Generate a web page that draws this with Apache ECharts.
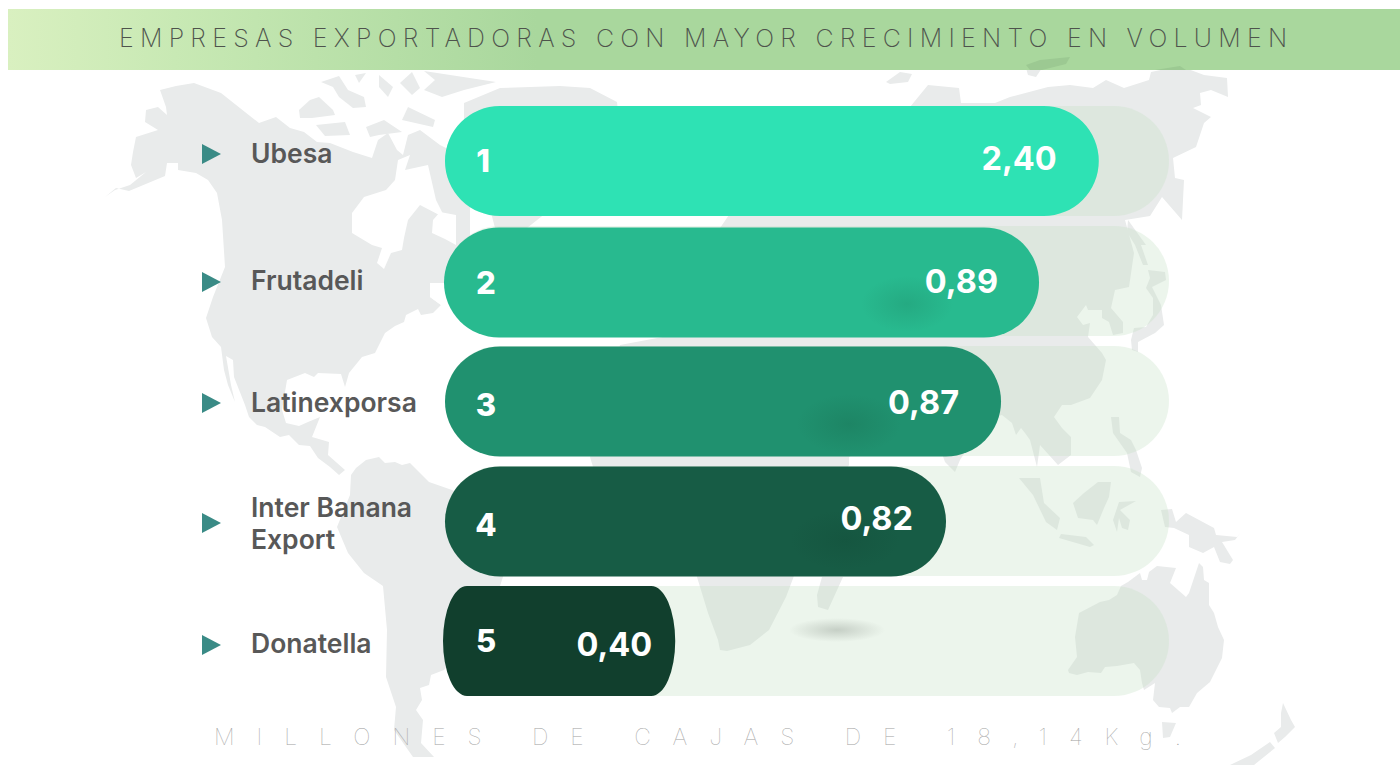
<!DOCTYPE html>
<html><head><meta charset="utf-8">
<script src="https://cdn.jsdelivr.net/npm/echarts@6/dist/echarts.min.js"></script>
<style>
html,body{margin:0;padding:0;background:#fff}
#c{width:1400px;height:765px}
text[style*="25px"]{letter-spacing:6.25px}
text[style*="23px"]{letter-spacing:21.95px}
</style></head><body><div id="c"></div>
<script>
const companies=['Ubesa','Frutadeli','Latinexporsa','Inter Banana\nExport','Donatella'];
const ranks=['1','2','3','4','5'];
const valueLabels=['2,40','0,89','0,87','0,82','0,40'];
// Drawn bar length (% of the pale track): the source bars are not proportional to the printed values.
const barLengths=[90.3,82.05,76.8,69.2,31.8];
const trackLengths=[100,100,100,100,100];
const barColors=['#2EE2B4','#28BA8F','#20916F','#175C45','#113F2D'];
const titleText='EMPRESAS EXPORTADORAS CON MAYOR CRECIMIENTO EN VOLUMEN';
const footerText='MILLONES DE CAJAS DE 18,14Kg.';
const cornerX=[55,55,55,55,24];
const nameShift=[-8,-1,1,2,2];
const rankShift=[-1,1,3,3,-1];
const valueShift=[-3,0,1,-3,3];
const valueInset=[42,41,42,33,23];
const rankX=[38,41,41,41,41];
const markerShift=[-7,1,2,2,4];
const barDrop=[0,1.5,0.5,0.5,0];
const barStartNudge=[0,-1,0,0,-2];

const LAND='#E9EBEB';
const land=[
[[105,197],[116,188],[129,191],[165,176],[167,163],[178,163],[178,170],[196,173],[208,180],[217,193],[222,220],[225,267],[213,297],[206,318],[212,337],[221,347],[224,370],[228,385],[235,402],[231,385],[226,356],[233,360],[234,377],[245,405],[249,417],[257,425],[265,427],[280,437],[289,435],[299,445],[310,446],[318,458],[330,467],[339,475],[345,470],[328,455],[329,442],[312,437],[320,417],[308,422],[299,426],[286,423],[282,410],[287,380],[305,373],[314,377],[318,373],[341,374],[345,387],[349,373],[362,357],[375,353],[385,333],[395,326],[404,322],[406,315],[418,309],[421,315],[433,313],[441,305],[430,297],[430,283],[470,283],[470,160],[440,145],[420,130],[408,135],[403,155],[397,150],[388,133],[378,140],[372,158],[353,152],[330,143],[317,142],[304,132],[290,128],[276,117],[259,123],[221,93],[194,83],[176,86],[160,90],[166,107],[167,115],[158,107],[146,110],[145,122],[158,130],[136,137],[133,152],[131,165],[136,178],[146,172],[130,185],[115,190]],
[[351,475],[356,468],[366,460],[379,457],[385,463],[395,462],[402,465],[410,463],[429,482],[452,490],[520,525],[500,586],[470,640],[444,670],[431,675],[429,685],[420,688],[422,700],[416,710],[423,720],[421,743],[434,757],[413,757],[394,730],[396,707],[386,677],[387,630],[383,586],[364,573],[348,553],[337,527],[350,495]],
[[464,103],[500,88],[560,86],[590,88],[617,102],[620,130],[575,190],[527,228],[495,228],[480,170],[464,130]],
[[590,457],[620,345],[700,330],[720,228],[760,170],[850,120],[886,110],[910,107],[928,85],[959,88],[961,103],[995,103],[1010,97],[1048,87],[1070,85],[1093,88],[1106,80],[1124,88],[1149,80],[1151,72],[1180,66],[1204,75],[1227,78],[1228,97],[1211,90],[1200,93],[1201,105],[1193,108],[1211,117],[1204,123],[1196,147],[1173,158],[1175,178],[1184,180],[1182,220],[1162,197],[1150,216],[1125,220],[1134,253],[1129,287],[1115,290],[1111,308],[1123,322],[1123,333],[1113,335],[1109,322],[1102,318],[1102,310],[1088,310],[1086,305],[1077,317],[1083,325],[1090,323],[1088,337],[1102,353],[1106,360],[1102,380],[1090,398],[1071,405],[1062,405],[1054,417],[1062,428],[1071,437],[1071,455],[1058,465],[1040,445],[1037,467],[1030,440],[1025,433],[1021,428],[1016,435],[1012,423],[1002,415],[985,420],[960,460],[955,472],[945,462],[930,420],[880,440],[849,457],[849,465],[825,510],[800,560],[786,597],[769,630],[750,645],[727,651],[720,650],[718,640],[708,613],[697,577],[685,530],[640,510],[600,490]],
[[822,577],[843,577],[828,610],[818,607],[817,595]],
[[886,82],[900,72],[912,74],[908,82],[890,84]],
[[1026,68],[1042,68],[1036,77],[1028,75]],
[[1128,220],[1146,245],[1141,245],[1148,265],[1143,265],[1135,245],[1127,232]],
[[1148,270],[1165,272],[1166,280],[1152,287],[1161,305],[1164,325],[1155,333],[1138,342],[1138,352],[1132,350],[1131,340],[1134,328],[1146,327],[1153,315],[1153,298],[1146,288],[1150,278]],
[[1111,417],[1119,417],[1120,433],[1131,440],[1136,450],[1142,468],[1140,477],[1131,472],[1127,453],[1113,433]],
[[1019,478],[1033,495],[1046,522],[1057,530],[1060,518],[1044,503],[1040,478]],
[[1059,538],[1061,534],[1086,537],[1094,545],[1090,547]],
[[1073,503],[1084,493],[1098,482],[1111,482],[1109,497],[1104,508],[1097,525],[1093,520],[1078,518]],
[[1119,502],[1136,501],[1120,510],[1130,520],[1128,530],[1122,528],[1119,518],[1117,532],[1113,520]],
[[1161,510],[1172,509],[1176,522],[1186,513],[1214,528],[1216,535],[1237,537],[1241,532],[1235,540],[1222,542],[1233,560],[1230,564],[1220,562],[1214,547],[1203,553],[1189,547],[1189,535],[1174,528],[1165,527]],
[[1068,670],[1077,657],[1075,637],[1079,613],[1100,602],[1109,600],[1117,595],[1121,586],[1128,582],[1140,573],[1142,580],[1147,580],[1149,572],[1157,566],[1176,568],[1170,583],[1186,597],[1189,593],[1199,563],[1203,567],[1204,580],[1209,583],[1209,605],[1214,613],[1218,627],[1224,640],[1222,658],[1210,682],[1197,693],[1189,707],[1180,707],[1172,713],[1170,708],[1159,707],[1153,700],[1155,683],[1144,690],[1142,683],[1140,670],[1134,663],[1117,666],[1105,667],[1101,673],[1088,672],[1077,675],[1069,673]],
[[1162,722],[1176,723],[1170,737],[1163,738]],
[[1283,703],[1291,720],[1295,727],[1285,737],[1278,743],[1274,733],[1281,727],[1281,713]],
[[1270,742],[1251,755],[1230,765],[1254,765],[1275,748]],
[[299,110],[310,100],[319,97],[333,110],[335,115],[312,118],[300,118]],
[[321,82],[339,76],[348,90],[364,97],[366,107],[353,108],[339,97],[333,87]],
[[355,75],[366,73],[359,83]],
[[379,75],[393,87],[388,97],[379,87]],
[[400,83],[412,72],[420,88],[412,95]],
[[424,71],[496,82],[464,90],[442,97],[424,90],[435,80]],
[[408,107],[435,120],[433,127],[402,120]],
[[366,127],[384,120],[402,132],[379,135],[370,137]],
[[316,125],[345,122],[350,135],[325,136]]
];
const water=[
[[352,233],[352,213],[364,197],[386,190],[395,180],[398,160],[410,155],[405,170],[428,165],[436,200],[445,218],[420,205],[408,220],[404,238],[402,250],[391,253],[384,269],[377,263],[382,248],[372,245]],
[[433,220],[432,233],[445,239],[456,245],[456,215],[440,212]],
[[430,283],[470,283],[470,300],[441,305],[430,297]]
];
const titleIslands=[[[1026,65],[1040,60],[1070,57],[1066,64],[1050,68],[1042,70],[1030,70]],[[1155,70],[1180,66],[1186,70]]];

const poly=(pts,fill,z)=>({type:'polygon',silent:true,z,shape:{points:pts},style:{fill}});
const spot=(cx,cy,rx,ry,col)=>({type:'ellipse',silent:true,z:40,shape:{cx,cy,rx,ry},style:{fill:{type:'radial',x:.5,y:.5,r:.5,colorStops:[{offset:0,color:col},{offset:1,color:col.replace(/[\d.]+\)$/,'0)')}]}}});

const graphics=[
  ...land.map(p=>poly(p,LAND,0)),
  ...water.map(p=>poly(p,'#FFFFFF',0)),
  {type:'rect',silent:true,z:1,shape:{x:8,y:9,width:1392,height:61},style:{fill:{type:'linear',x:0,y:0,x2:1,y2:0,colorStops:[{offset:0,color:'#D9F0C0'},{offset:.12,color:'#C8E9B4'},{offset:.38,color:'#A9D79D'},{offset:1,color:'#A9D79D'}]}}},
  ...titleIslands.map(p=>poly(p,'#9CC992',2)),
  spot(837,630,48,12,'rgba(140,150,140,0.4)'),
  spot(907,304,46,28,'rgba(30,140,105,0.35)'),
  spot(849,424,52,30,'rgba(25,115,85,0.4)'),
  spot(845,540,55,30,'rgba(18,75,55,0.35)')
];

function capsule(x,y,w,h,rx){
  const ry=h/2;
  return `M${x+rx} ${y}H${x+w-rx}A${rx} ${ry} 0 0 1 ${x+w-rx} ${y+h}H${x+rx}A${rx} ${ry} 0 0 1 ${x+rx} ${y}Z`;
}
const BAR_RATIO=110/120;

const option={
  animation:false,
  backgroundColor:'#fff',
  title:[
    {text:titleText,left:119,top:25,padding:0,textStyle:{fontFamily:'Inter',fontWeight:200,fontSize:25,color:'#4E534C'},z:30},
    {text:footerText,left:214,top:725,padding:0,textStyle:{fontFamily:'Inter',fontWeight:100,fontSize:23,color:'#A4A4A4'},z:30}
  ],
  graphic:{elements:graphics},
  grid:{left:445,top:101,width:724,height:600,containLabel:false},
  xAxis:{type:'value',min:0,max:100,show:false},
  yAxis:{type:'category',inverse:true,data:companies,axisLine:{show:false},axisTick:{show:false},splitLine:{show:false},axisLabel:{show:false}},
  series:[
    {type:'bar',name:'track',data:trackLengths,barWidth:110,z:1,silent:true,
     itemStyle:{color:'rgba(197,225,197,0.32)',borderRadius:55}},
    {type:'custom',name:'Millones de cajas',z:3,silent:true,data:barLengths.map((v,i)=>[v,i]),encode:{x:0,y:1},
     renderItem(p,api){
       const i=p.dataIndex,end=api.coord([api.value(0),api.value(1)]),start=api.coord([0,api.value(1)]);
       const h=api.size([0,1])[1]*BAR_RATIO;
       const x0=start[0]+barStartNudge[i],w=end[0]-x0,top=start[1]-h/2+barDrop[i];
       return {type:'path',shape:{pathData:capsule(x0,top,w,h,cornerX[i]),x:x0,y:top,width:w,height:h,layout:'cover'},style:{fill:barColors[i]}};
     }},
    {type:'custom',name:'labels',z:60,silent:true,data:barLengths.map((v,i)=>[v,i]),encode:{x:0,y:1},clip:false,
     renderItem(p,api){
       const i=p.dataIndex,end=api.coord([api.value(0),api.value(1)]),start=api.coord([0,api.value(1)]);
       const tx=start[0]-243,ty=start[1]+markerShift[i];
       return {type:'group',children:[
         {type:'polygon',shape:{points:[[tx,ty-10],[tx+19,ty],[tx,ty+10]]},style:{fill:'#3A8B86'}},
         {type:'text',style:{text:companies[i],x:start[0]-194,y:start[1]+nameShift[i],align:'left',verticalAlign:'middle',fontFamily:'Inter',fontWeight:600,fontSize:26.5,lineHeight:32,fill:'#585858'}},
         {type:'text',style:{text:ranks[i],x:start[0]+rankX[i],y:start[1]+rankShift[i],align:'center',verticalAlign:'middle',fontFamily:'Inter',fontWeight:800,fontSize:31,fill:'#fff'}},
         {type:'text',style:{text:valueLabels[i],x:end[0]-valueInset[i],y:start[1]+valueShift[i],align:'right',verticalAlign:'middle',fontFamily:'Inter',fontWeight:700,fontSize:32.5,fill:'#fff'}}
       ]};
     }}
  ]
};
const chart=echarts.init(document.getElementById('c'),null,{renderer:'svg',width:1400,height:765});
chart.setOption(option);
</script></body></html>
